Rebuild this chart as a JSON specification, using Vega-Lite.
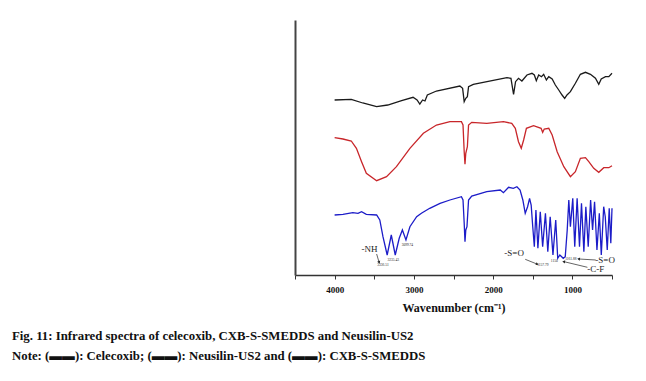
{
  "$schema": "https://vega.github.io/schema/vega-lite/v6.json",
  "width": 317,
  "height": 255,
  "autosize": "none",
  "padding": {"left": 295, "top": 20, "right": 34, "bottom": 106},
  "background": "white",
  "config": {"view": {"stroke": null}},
  "title": {
    "text": ["Fig. 11: Infrared spectra of celecoxib, CXB-S-SMEDDS and Neusilin-US2", "Note: (▬▬): Celecoxib; (▬▬): Neusilin-US2 and (▬▬): CXB-S-SMEDDS"],
    "orient": "bottom",
    "anchor": "start",
    "frame": "group",
    "dx": -283,
    "offset": 17,
    "font": "Liberation Serif",
    "fontSize": 12.8,
    "fontWeight": "bold",
    "color": "#111",
    "lineHeight": 20
  },
  "datasets": {
    "spectra": [
      {"s":"CXB-S-SMEDDS","wn":4000,"t":175},{"s":"CXB-S-SMEDDS","wn":3790,"t":175.7},{"s":"CXB-S-SMEDDS","wn":3645,"t":172},{"s":"CXB-S-SMEDDS","wn":3470,"t":168.3},{"s":"CXB-S-SMEDDS","wn":3330,"t":170},{"s":"CXB-S-SMEDDS","wn":3155,"t":174.3},{"s":"CXB-S-SMEDDS","wn":3010,"t":177.7},{"s":"CXB-S-SMEDDS","wn":2960,"t":175},{"s":"CXB-S-SMEDDS","wn":2925,"t":171},{"s":"CXB-S-SMEDDS","wn":2890,"t":175},{"s":"CXB-S-SMEDDS","wn":2860,"t":174},{"s":"CXB-S-SMEDDS","wn":2830,"t":180},{"s":"CXB-S-SMEDDS","wn":2715,"t":184},{"s":"CXB-S-SMEDDS","wn":2420,"t":189},{"s":"CXB-S-SMEDDS","wn":2385,"t":186.7},{"s":"CXB-S-SMEDDS","wn":2365,"t":173.3},{"s":"CXB-S-SMEDDS","wn":2345,"t":176.7},{"s":"CXB-S-SMEDDS","wn":2325,"t":178.3},{"s":"CXB-S-SMEDDS","wn":2310,"t":188.3},{"s":"CXB-S-SMEDDS","wn":2250,"t":190.7},{"s":"CXB-S-SMEDDS","wn":1826,"t":197.3},{"s":"CXB-S-SMEDDS","wn":1775,"t":196.7},{"s":"CXB-S-SMEDDS","wn":1742,"t":180.7},{"s":"CXB-S-SMEDDS","wn":1717,"t":193.3},{"s":"CXB-S-SMEDDS","wn":1680,"t":196.7},{"s":"CXB-S-SMEDDS","wn":1637,"t":194},{"s":"CXB-S-SMEDDS","wn":1573,"t":200},{"s":"CXB-S-SMEDDS","wn":1510,"t":201.7},{"s":"CXB-S-SMEDDS","wn":1480,"t":200},{"s":"CXB-S-SMEDDS","wn":1455,"t":194.3},{"s":"CXB-S-SMEDDS","wn":1425,"t":200},{"s":"CXB-S-SMEDDS","wn":1390,"t":198.3},{"s":"CXB-S-SMEDDS","wn":1362,"t":200.7},{"s":"CXB-S-SMEDDS","wn":1328,"t":195},{"s":"CXB-S-SMEDDS","wn":1298,"t":198.3},{"s":"CXB-S-SMEDDS","wn":1255,"t":196},{"s":"CXB-S-SMEDDS","wn":1215,"t":190},{"s":"CXB-S-SMEDDS","wn":1172,"t":185},{"s":"CXB-S-SMEDDS","wn":1130,"t":180},{"s":"CXB-S-SMEDDS","wn":1097,"t":176.7},{"s":"CXB-S-SMEDDS","wn":1068,"t":180},{"s":"CXB-S-SMEDDS","wn":1025,"t":183.3},{"s":"CXB-S-SMEDDS","wn":962,"t":191.7},{"s":"CXB-S-SMEDDS","wn":899,"t":200.7},{"s":"CXB-S-SMEDDS","wn":835,"t":202.7},{"s":"CXB-S-SMEDDS","wn":772,"t":200.7},{"s":"CXB-S-SMEDDS","wn":709,"t":196.7},{"s":"CXB-S-SMEDDS","wn":667,"t":190.7},{"s":"CXB-S-SMEDDS","wn":636,"t":196},{"s":"CXB-S-SMEDDS","wn":582,"t":198.3},{"s":"CXB-S-SMEDDS","wn":540,"t":198.3},{"s":"CXB-S-SMEDDS","wn":500,"t":201.7},
      {"s":"Neusilin-US2","wn":4000,"t":137.3},{"s":"Neusilin-US2","wn":3895,"t":136},{"s":"Neusilin-US2","wn":3790,"t":134},{"s":"Neusilin-US2","wn":3725,"t":126.7},{"s":"Neusilin-US2","wn":3660,"t":113.3},{"s":"Neusilin-US2","wn":3600,"t":101.7},{"s":"Neusilin-US2","wn":3470,"t":94.3},{"s":"Neusilin-US2","wn":3345,"t":98.3},{"s":"Neusilin-US2","wn":3220,"t":108.3},{"s":"Neusilin-US2","wn":3050,"t":126.7},{"s":"Neusilin-US2","wn":2880,"t":141.7},{"s":"Neusilin-US2","wn":2715,"t":150},{"s":"Neusilin-US2","wn":2545,"t":153.3},{"s":"Neusilin-US2","wn":2400,"t":153.3},{"s":"Neusilin-US2","wn":2380,"t":150},{"s":"Neusilin-US2","wn":2365,"t":123.3},{"s":"Neusilin-US2","wn":2355,"t":110.7},{"s":"Neusilin-US2","wn":2345,"t":121.7},{"s":"Neusilin-US2","wn":2325,"t":128.3},{"s":"Neusilin-US2","wn":2310,"t":150},{"s":"Neusilin-US2","wn":2270,"t":152.7},{"s":"Neusilin-US2","wn":2080,"t":151.7},{"s":"Neusilin-US2","wn":1870,"t":153.3},{"s":"Neusilin-US2","wn":1765,"t":151.7},{"s":"Neusilin-US2","wn":1720,"t":146.7},{"s":"Neusilin-US2","wn":1680,"t":133.3},{"s":"Neusilin-US2","wn":1645,"t":126.7},{"s":"Neusilin-US2","wn":1615,"t":135},{"s":"Neusilin-US2","wn":1580,"t":146.7},{"s":"Neusilin-US2","wn":1490,"t":149.3},{"s":"Neusilin-US2","wn":1395,"t":146.7},{"s":"Neusilin-US2","wn":1375,"t":142.7},{"s":"Neusilin-US2","wn":1355,"t":146},{"s":"Neusilin-US2","wn":1298,"t":146.7},{"s":"Neusilin-US2","wn":1255,"t":140},{"s":"Neusilin-US2","wn":1192,"t":123.3},{"s":"Neusilin-US2","wn":1108,"t":108.3},{"s":"Neusilin-US2","wn":1025,"t":98.3},{"s":"Neusilin-US2","wn":962,"t":103.3},{"s":"Neusilin-US2","wn":899,"t":116.7},{"s":"Neusilin-US2","wn":835,"t":117.3},{"s":"Neusilin-US2","wn":793,"t":113.3},{"s":"Neusilin-US2","wn":730,"t":106.7},{"s":"Neusilin-US2","wn":667,"t":102.7},{"s":"Neusilin-US2","wn":604,"t":107.3},{"s":"Neusilin-US2","wn":540,"t":107.3},{"s":"Neusilin-US2","wn":500,"t":109.3},
      {"s":"Celecoxib","wn":4000,"t":60},{"s":"Celecoxib","wn":3895,"t":60.7},{"s":"Celecoxib","wn":3770,"t":62.3},{"s":"Celecoxib","wn":3705,"t":61.7},{"s":"Celecoxib","wn":3660,"t":63.3},{"s":"Celecoxib","wn":3600,"t":60.7},{"s":"Celecoxib","wn":3470,"t":60},{"s":"Celecoxib","wn":3430,"t":55},{"s":"Celecoxib","wn":3390,"t":38.3},{"s":"Celecoxib","wn":3337,"t":20},{"s":"Celecoxib","wn":3285,"t":40},{"s":"Celecoxib","wn":3235,"t":20},{"s":"Celecoxib","wn":3185,"t":36.7},{"s":"Celecoxib","wn":3145,"t":45},{"s":"Celecoxib","wn":3100,"t":35},{"s":"Celecoxib","wn":3050,"t":48.3},{"s":"Celecoxib","wn":2965,"t":58.3},{"s":"Celecoxib","wn":2905,"t":61.7},{"s":"Celecoxib","wn":2800,"t":66.7},{"s":"Celecoxib","wn":2670,"t":71.7},{"s":"Celecoxib","wn":2545,"t":75},{"s":"Celecoxib","wn":2400,"t":78.3},{"s":"Celecoxib","wn":2380,"t":75},{"s":"Celecoxib","wn":2365,"t":51.7},{"s":"Celecoxib","wn":2355,"t":33.3},{"s":"Celecoxib","wn":2345,"t":45},{"s":"Celecoxib","wn":2330,"t":48.3},{"s":"Celecoxib","wn":2310,"t":75},{"s":"Celecoxib","wn":2270,"t":79},{"s":"Celecoxib","wn":2080,"t":83.3},{"s":"Celecoxib","wn":1910,"t":85},{"s":"Celecoxib","wn":1870,"t":82.3},{"s":"Celecoxib","wn":1805,"t":87.7},{"s":"Celecoxib","wn":1745,"t":86.7},{"s":"Celecoxib","wn":1700,"t":88.3},{"s":"Celecoxib","wn":1660,"t":85},{"s":"Celecoxib","wn":1625,"t":75},{"s":"Celecoxib","wn":1595,"t":61.7},{"s":"Celecoxib","wn":1565,"t":68.3},{"s":"Celecoxib","wn":1540,"t":76.7},{"s":"Celecoxib","wn":1520,"t":70},{"s":"Celecoxib","wn":1500,"t":48.3},{"s":"Celecoxib","wn":1480,"t":28.3},{"s":"Celecoxib","wn":1460,"t":65},{"s":"Celecoxib","wn":1435,"t":26.7},{"s":"Celecoxib","wn":1405,"t":63.3},{"s":"Celecoxib","wn":1375,"t":28.3},{"s":"Celecoxib","wn":1340,"t":61.7},{"s":"Celecoxib","wn":1310,"t":23.3},{"s":"Celecoxib","wn":1280,"t":58.3},{"s":"Celecoxib","wn":1245,"t":20},{"s":"Celecoxib","wn":1210,"t":55},{"s":"Celecoxib","wn":1185,"t":16.7},{"s":"Celecoxib","wn":1158,"t":20},{"s":"Celecoxib","wn":1115,"t":16.7},{"s":"Celecoxib","wn":1090,"t":18.3},{"s":"Celecoxib","wn":1065,"t":45},{"s":"Celecoxib","wn":1045,"t":75},{"s":"Celecoxib","wn":1025,"t":48.3},{"s":"Celecoxib","wn":995,"t":76.7},{"s":"Celecoxib","wn":970,"t":28.3},{"s":"Celecoxib","wn":940,"t":76.7},{"s":"Celecoxib","wn":910,"t":28.3},{"s":"Celecoxib","wn":885,"t":71.7},{"s":"Celecoxib","wn":855,"t":23.3},{"s":"Celecoxib","wn":830,"t":68.3},{"s":"Celecoxib","wn":800,"t":28.3},{"s":"Celecoxib","wn":770,"t":75},{"s":"Celecoxib","wn":745,"t":45},{"s":"Celecoxib","wn":720,"t":73.3},{"s":"Celecoxib","wn":690,"t":25},{"s":"Celecoxib","wn":660,"t":61.7},{"s":"Celecoxib","wn":635,"t":20},{"s":"Celecoxib","wn":605,"t":68.3},{"s":"Celecoxib","wn":585,"t":58.3},{"s":"Celecoxib","wn":560,"t":25},{"s":"Celecoxib","wn":535,"t":66.7},{"s":"Celecoxib","wn":515,"t":31.7},{"s":"Celecoxib","wn":500,"t":66.7}
    ],
    "notes": [
      {"txt":"-NH","wn":3560,"t":26,"k":"big"},
      {"txt":"-S=O","wn":1735,"t":22,"k":"big"},
      {"txt":"-S=O","wn":587,"t":15,"k":"big"},
      {"txt":"-C-F","wn":705,"t":6,"k":"big"},
      {"txt":"3336.51","wn":3390,"t":10,"k":"small"},
      {"txt":"3235.43","wn":3260,"t":15,"k":"small"},
      {"txt":"3099.74","wn":3082,"t":30,"k":"small"},
      {"txt":"1157.79","wn":1373,"t":10,"k":"small"},
      {"txt":"1150","wn":1228,"t":14,"k":"small"},
      {"txt":"1161.88","wn":1020,"t":16,"k":"small"}
    ],
    "arrows": [
      {"id":"nh","wn":3470,"t":21,"wn2":3440,"t2":13},
      {"id":"so1","wn":1595,"t":15.7,"wn2":1448,"t2":11},
      {"id":"so2","wn":705,"t":15,"wn2":916,"t2":16},
      {"id":"cf","wn":810,"t":7.7,"wn2":1104,"t2":13.3}
    ]
  },
  "encoding": {
    "x": {"type": "quantitative",
      "scale": {"domain": [4500, 500], "nice": false, "zero": false},
      "axis": {
        "values": [4500, 4000, 3500, 3000, 2500, 2000, 1500, 1000, 500],
        "labelExpr": "datum.value % 1000 == 0 ? '' + datum.value : ''",
        "labelOverlap": false,
        "labelFlush": false,
        "labelBound": false,
        "title": "Wavenumber (cm⁻¹)",
        "titleFont": "Liberation Serif", "titleFontSize": 12, "titleFontWeight": "bold", "titleColor": "#111",
        "titlePadding": 8,
        "labelFont": "Liberation Serif", "labelFontSize": 9, "labelFontWeight": "bold", "labelColor": "#111",
        "labelPadding": 6,
        "domainColor": "#333", "domainWidth": 1.5,
        "tickColor": "#333", "tickWidth": 1, "tickSize": 4,
        "grid": false
      }
    },
    "y": {"type": "quantitative",
      "scale": {"domain": [0, 255], "nice": false},
      "axis": {"labels": false, "ticks": false, "title": null, "grid": false, "domainColor": "#444", "domainWidth": 2}
    }
  },
  "layer": [
    {
      "data": {"name": "spectra"},
      "mark": {"type": "line", "strokeWidth": 1.3, "clip": false},
      "encoding": {
        "x": {"field": "wn"},
        "y": {"field": "t"},
        "color": {"field": "s", "type": "nominal",
          "scale": {"domain": ["Celecoxib", "Neusilin-US2", "CXB-S-SMEDDS"], "range": ["#1c1cc8", "#c8262a", "#1a1a1a"]},
          "legend": null
        }
      }
    },
    {
      "data": {"name": "arrows"},
      "mark": {"type": "rule", "color": "#222", "strokeWidth": 0.7},
      "encoding": {
        "x": {"field": "wn"},
        "x2": {"field": "wn2"},
        "y": {"field": "t"},
        "y2": {"field": "t2"}
      }
    },
    {
      "data": {"name": "arrows"},
      "transform": [{"filter": "datum.id === 'nh'"}],
      "mark": {"type": "point", "shape": "triangle", "filled": true, "color": "#222", "size": 10, "angle": 160, "opacity": 1},
      "encoding": {"x": {"field": "wn2"}, "y": {"field": "t2"}}
    },
    {
      "data": {"name": "arrows"},
      "transform": [{"filter": "datum.id === 'so1'"}],
      "mark": {"type": "point", "shape": "triangle", "filled": true, "color": "#222", "size": 10, "angle": 112, "opacity": 1},
      "encoding": {"x": {"field": "wn2"}, "y": {"field": "t2"}}
    },
    {
      "data": {"name": "arrows"},
      "transform": [{"filter": "datum.id === 'so2' || datum.id === 'cf'"}],
      "mark": {"type": "point", "shape": "triangle", "filled": true, "color": "#222", "size": 10, "angle": 278, "opacity": 1},
      "encoding": {"x": {"field": "wn2"}, "y": {"field": "t2"}}
    },
    {
      "data": {"name": "notes"},
      "transform": [{"filter": "datum.k === 'big'"}],
      "mark": {"type": "text", "font": "Liberation Serif", "fontSize": 9, "color": "#222", "baseline": "middle"},
      "encoding": {"x": {"field": "wn"}, "y": {"field": "t"}, "text": {"field": "txt"}}
    },
    {
      "data": {"name": "notes"},
      "transform": [{"filter": "datum.k === 'small'"}],
      "mark": {"type": "text", "font": "Liberation Serif", "fontSize": 3.5, "color": "#222", "baseline": "middle"},
      "encoding": {"x": {"field": "wn"}, "y": {"field": "t"}, "text": {"field": "txt"}}
    }
  ]
}
